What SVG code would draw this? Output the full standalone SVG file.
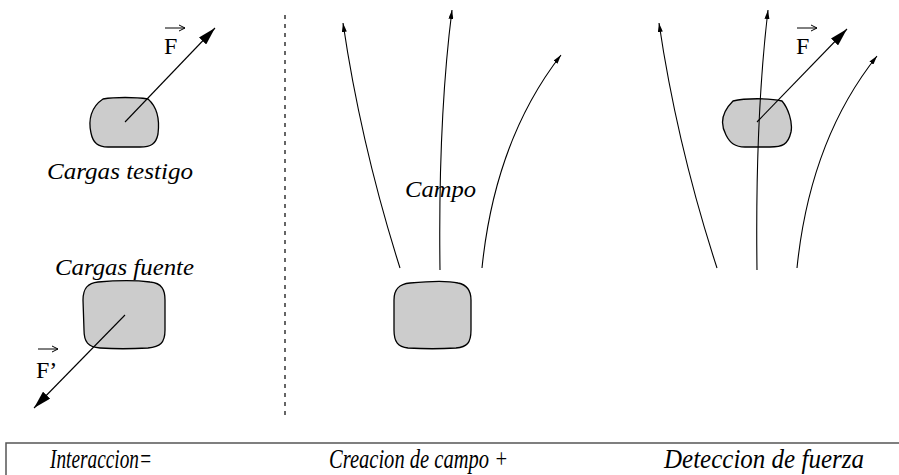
<svg xmlns="http://www.w3.org/2000/svg" width="899" height="475" viewBox="0 0 899 475">
<defs>
<marker id="big" viewBox="0 0 18 10" refX="18" refY="5" markerWidth="18" markerHeight="10" markerUnits="userSpaceOnUse" orient="auto">
<path d="M0 0 L18 5 L0 10 Z" fill="#000"/>
</marker>
<marker id="small" viewBox="0 0 9 5" refX="9" refY="2.5" markerWidth="9" markerHeight="5" markerUnits="userSpaceOnUse" orient="auto">
<path d="M0 0 L9 2.5 L0 5 Z" fill="#000"/>
</marker>
</defs>
<style>
.blob{fill:#cccccc;stroke:#000;stroke-width:1.3}
.fl{fill:none;stroke:#000;stroke-width:1.1;marker-end:url(#small)}
.force{fill:none;stroke:#000;stroke-width:1.1;marker-end:url(#big)}
.ov{fill:none;stroke:#000;stroke-width:1}
</style>
<rect width="899" height="475" fill="#fff"/>
<g id="divider">
<line x1="285" y1="15" x2="285" y2="415" stroke="#000" stroke-width="1.2" stroke-dasharray="4 5"/>
</g>
<g id="cargas-testigo">
<path class="blob" d="M103 99 C115 97,135 97,148 99 C156 106,160 118,158 134 C156 144,151 147,140 147 L108 147 C98 147,93 143,91 133 C88 120,91 107,103 99 Z"/>
<text x="47" y="179" font-family="Liberation Serif, serif" font-style="italic" font-size="24" textLength="146" lengthAdjust="spacingAndGlyphs">Cargas testigo</text>
</g>
<g id="cargas-fuente">
<path class="blob" d="M98 282 C120 280,135 280,150 282 C162 283,165 290,165 300 L165 330 C165 343,160 347,148 348 C130 349,115 349,100 348 C88 347,84 342,84 330 L83 300 C83 288,88 283,98 282 Z"/>
<text x="55" y="275" font-family="Liberation Serif, serif" font-style="italic" font-size="24" textLength="139" lengthAdjust="spacingAndGlyphs">Cargas fuente</text>
</g>
<g id="fuente-campo">
<path class="blob" d="M410 283 C430 281,450 281,458 283 C468 285,471 291,471 300 L471 330 C471 343,467 347,456 348 C440 349,425 349,408 348 C398 347,394 342,394 330 L394 300 C394 289,399 284,410 283 Z"/>
<text x="405" y="197" font-family="Liberation Serif, serif" font-style="italic" font-size="24" textLength="71" lengthAdjust="spacingAndGlyphs">Campo</text>
</g>
<g id="carga-detectora">
<path class="blob" d="M733 101 C745 98,770 98,782 101 C788 108,793 122,791 132 C788 145,782 147,770 147 L745 147 C735 147,730 143,726 135 C720 124,722 112,733 101 Z"/>
</g>
<g id="connectors">
<path class="fl" d="M400 268 Q361 145 343 23"/>
<path class="fl" d="M440 270 Q438 120 452 10"/>
<path class="fl" d="M482 268 Q495 140 561 55"/>
<path class="fl" d="M717 268 Q677 145 659 23"/>
<path class="fl" d="M757 270 Q755 120 768 10"/>
<path class="fl" d="M797 268 Q810 140 877 56"/>
<path class="force" d="M125 122 L215 28"/>
<path class="force" d="M125 315 L34 408"/>
<path class="force" d="M757 122 L847 29"/>
</g>
<g id="vec-F-left">
<text x="164" y="54" font-family="Liberation Serif, serif" font-size="24">F</text>
<line class="ov" x1="165" y1="28" x2="185" y2="28"/>
<path class="ov" d="M179 25 L185 28 L179 31"/>
</g>
<g id="vec-F-prime">
<text x="36" y="378" font-family="Liberation Serif, serif" font-size="24">F’</text>
<line class="ov" x1="38" y1="349" x2="58" y2="349"/>
<path class="ov" d="M52 346 L58 349 L52 352"/>
</g>
<g id="vec-F-right">
<text x="796" y="54" font-family="Liberation Serif, serif" font-size="24">F</text>
<line class="ov" x1="797" y1="28" x2="817" y2="28"/>
<path class="ov" d="M811 25 L817 28 L811 31"/>
</g>
<g id="summary">
<path d="M6 475 L6 443 L899 443" fill="none" stroke="#555" stroke-width="1.5"/>
<text x="50" y="468" font-family="Liberation Serif, serif" font-style="italic" font-size="27" textLength="102" lengthAdjust="spacingAndGlyphs">Interaccion=</text>
<text x="329" y="468" font-family="Liberation Serif, serif" font-style="italic" font-size="27" textLength="179" lengthAdjust="spacingAndGlyphs">Creacion de campo +</text>
<text x="664" y="468" font-family="Liberation Serif, serif" font-style="italic" font-size="27" textLength="200" lengthAdjust="spacingAndGlyphs">Deteccion de fuerza</text>
</g>
</svg>
